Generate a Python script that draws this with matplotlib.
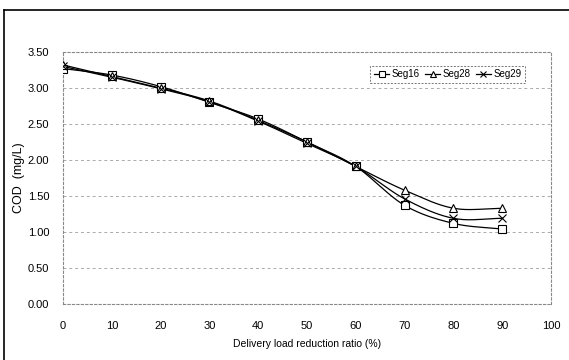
import numpy as np
import matplotlib
matplotlib.use("Agg")
import matplotlib.pyplot as plt
from matplotlib.lines import Line2D

plt.rcParams['font.family'] = ['Liberation Sans', 'DejaVu Sans']

x_vals = [0, 10, 20, 30, 40, 50, 60, 70, 80, 90]
seg16 = [3.27, 3.18, 3.02, 2.80, 2.57, 2.25, 1.91, 1.37, 1.12, 1.04]
seg28 = [3.32, 3.16, 3.00, 2.82, 2.55, 2.25, 1.91, 1.58, 1.33, 1.33]
seg29 = [3.30, 3.15, 2.99, 2.81, 2.54, 2.23, 1.91, 1.46, 1.19, 1.19]
series_names = ["Seg16", "Seg28", "Seg29"]
y_ticks = [0.0, 0.5, 1.0, 1.5, 2.0, 2.5, 3.0, 3.5]
x_ticks = [0, 10, 20, 30, 40, 50, 60, 70, 80, 90, 100]


def smooth(xs, ys, n=20):
    xs = np.asarray(xs, float)
    ys = np.asarray(ys, float)
    px = np.concatenate([[2 * xs[0] - xs[1]], xs, [2 * xs[-1] - xs[-2]]])
    py = np.concatenate([[2 * ys[0] - ys[1]], ys, [2 * ys[-1] - ys[-2]]])
    outx, outy = [], []
    t = np.linspace(0, 1, n, endpoint=False)
    for i in range(1, len(px) - 2):
        p0, p1, p2, p3 = (np.array([px[j], py[j]]) for j in (i - 1, i, i + 1, i + 2))
        m1 = (p2 - p0) / 6
        m2 = (p3 - p1) / 6
        c1 = p1 + m1
        c2 = p2 - m2
        b = ((1 - t) ** 3)[:, None] * p1 + (3 * (1 - t) ** 2 * t)[:, None] * c1 \
            + (3 * (1 - t) * t ** 2)[:, None] * c2 + (t ** 3)[:, None] * p2
        outx.extend(b[:, 0])
        outy.extend(b[:, 1])
    outx.append(xs[-1])
    outy.append(ys[-1])
    return np.array(outx), np.array(outy)


fig = plt.figure(figsize=(5.69, 3.60), dpi=100)
ax = fig.add_axes([63 / 569, 56 / 360, 488 / 569, 252 / 360])

markers = ['s', '^', 'x']
handles = []
for ys, mk, name in zip([seg16, seg28, seg29], markers, series_names):
    sx, sy = smooth(x_vals, ys)
    ax.plot(sx, sy, color='black', lw=0.9, zorder=3)
    mfc = 'white' if mk != 'x' else 'black'
    ax.plot(x_vals, ys, linestyle='none', marker=mk, markersize=5.5,
            markerfacecolor=mfc, markeredgecolor='black', markeredgewidth=0.8, zorder=4)
    handles.append(Line2D([0], [0], color='black', lw=0.9, marker=mk, markersize=5,
                          markerfacecolor=mfc, markeredgecolor='black',
                          markeredgewidth=0.8, label=name))

ax.set_xlim(0, 100)
ax.set_ylim(0, 3.5)
ax.set_xticks(x_ticks)
ax.set_yticks(y_ticks)
ax.set_xticklabels([str(v) for v in x_ticks])
ax.set_yticklabels([f"{v:.2f}" for v in y_ticks])
ax.tick_params(axis='both', length=0, labelsize=8, colors='black')
ax.tick_params(axis='y', pad=10)
ax.tick_params(axis='x', pad=12)

for v in y_ticks[1:-1]:
    ax.axhline(v, color='#aaaaaa', lw=0.7, linestyle=(0, (3, 3)), zorder=1)
for s in ax.spines.values():
    s.set_color('#888888')
    s.set_linewidth(0.8)
    s.set_linestyle((0, (2, 2)))

ax.set_xlabel("Delivery load reduction ratio (%)", fontsize=7.5, labelpad=6)
ax.set_ylabel("COD  (mg/L)", fontsize=9, labelpad=2)

leg = ax.legend(handles=handles, loc='upper right', ncol=3, fontsize=7,
                frameon=True, fancybox=False, handlelength=1.6, handletextpad=0.25,
                columnspacing=0.5, borderpad=0.35, bbox_to_anchor=(467 / 488, 243 / 252))
leg.get_frame().set_edgecolor('#555555')
leg.get_frame().set_linewidth(0.7)
leg.get_frame().set_linestyle((0, (2, 1.5)))

# outer chart-area frame (left and top edges visible)
fig.add_artist(Line2D([4 / 569, 4 / 569], [0, 1 - 10 / 360], color='black', lw=1.2,
                      transform=fig.transFigure))
fig.add_artist(Line2D([4 / 569, 1], [1 - 10 / 360, 1 - 10 / 360], color='black', lw=1.2,
                      transform=fig.transFigure))

fig.savefig("out.png", dpi=100)
